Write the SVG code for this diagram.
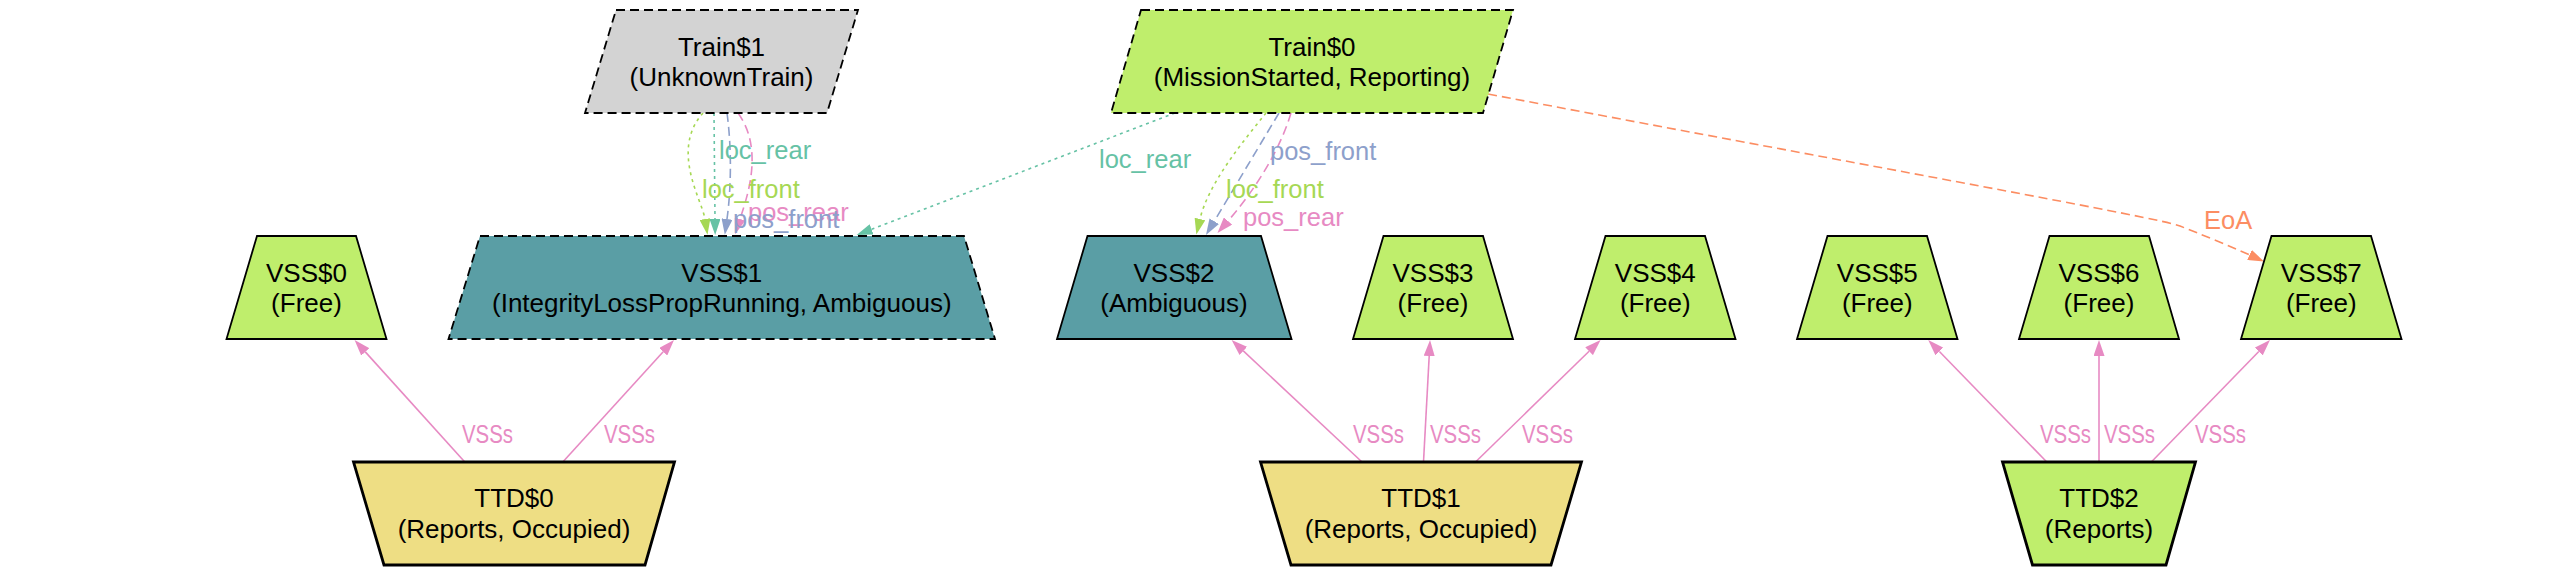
<svg xmlns="http://www.w3.org/2000/svg" width="2566" height="575" viewBox="0 0 2566 575">
<style>
text{font-family:"Liberation Sans",Arial,sans-serif;}
.nt{font-size:26px;fill:#000;text-anchor:middle;}
.lb{font-size:25.5px;}
.vss{stroke:#000;stroke-width:1.8;}
.ttd{stroke:#000;stroke-width:2.8;}
.train{stroke:#000;stroke-width:1.8;stroke-dasharray:9,5;}
.dash{stroke-dasharray:9,5;}
.green{fill:#bfee6c;}
.teal{fill:#5a9ea5;}
.gold{fill:#eede84;}
.gray{fill:#d3d3d3;}
.e{fill:none;stroke-width:1.6;}
.dot{stroke-dasharray:3,4;}
.dsh{stroke-dasharray:9,5;}
.cLR{stroke:#66c2a5;} .tLR{fill:#66c2a5;}
.cLF{stroke:#a6d854;} .tLF{fill:#a6d854;}
.cPF{stroke:#8da0cb;} .tPF{fill:#8da0cb;}
.cPR{stroke:#e78ac3;} .tPR{fill:#e78ac3;}
.cEO{stroke:#fc8d62;} .tEO{fill:#fc8d62;}
</style>
<defs>
<marker id="aLR" viewBox="0 0 16 11" refX="0" refY="5.5" markerWidth="16" markerHeight="11" markerUnits="userSpaceOnUse" orient="auto"><path d="M0,0 L16,5.5 L0,11 z" fill="#66c2a5"/></marker>
<marker id="aLF" viewBox="0 0 16 11" refX="0" refY="5.5" markerWidth="16" markerHeight="11" markerUnits="userSpaceOnUse" orient="auto"><path d="M0,0 L16,5.5 L0,11 z" fill="#a6d854"/></marker>
<marker id="aPF" viewBox="0 0 16 11" refX="0" refY="5.5" markerWidth="16" markerHeight="11" markerUnits="userSpaceOnUse" orient="auto"><path d="M0,0 L16,5.5 L0,11 z" fill="#8da0cb"/></marker>
<marker id="aPR" viewBox="0 0 16 11" refX="0" refY="5.5" markerWidth="16" markerHeight="11" markerUnits="userSpaceOnUse" orient="auto"><path d="M0,0 L16,5.5 L0,11 z" fill="#e78ac3"/></marker>
<marker id="aEO" viewBox="0 0 16 11" refX="0" refY="5.5" markerWidth="16" markerHeight="11" markerUnits="userSpaceOnUse" orient="auto"><path d="M0,0 L16,5.5 L0,11 z" fill="#fc8d62"/></marker>
</defs>
<rect x="0" y="0" width="2566" height="575" fill="#fff"/>

<g id="connectors">
  <!-- Train$1 -> VSS$1 -->
  <path class="e dot cLF" d="M703,113 C670,150 702,200 705,219" marker-end="url(#aLF)"/>
  <path class="e dot cLR" d="M714,113 L715,219" marker-end="url(#aLR)"/>
  <path class="e dsh cPF" d="M727,113 C732,150 731,190 727,219" marker-end="url(#aPF)"/>
  <path class="e dsh cPR" d="M738,113 C765,150 746,200 740,219" marker-end="url(#aPR)"/>
  <!-- Train$0 -> VSS$1 -->
  <path class="e dot cLR" d="M1175,113 L871.6,229.3" marker-end="url(#aLR)"/>
  <!-- Train$0 -> VSS$2 -->
  <path class="e dot cLF" d="M1266,113 C1240,145 1208,185 1200,219" marker-end="url(#aLF)"/>
  <path class="e dsh cPF" d="M1279,113 L1214.2,221.3" marker-end="url(#aPF)"/>
  <path class="e dsh cPR" d="M1291,113 C1280,150 1255,190 1228,221" marker-end="url(#aPR)"/>
  <!-- Train$0 -> VSS$7 -->
  <path class="e dsh cEO" d="M1488,94 C1900,172 2160,218 2180,226 C2200,234 2230,246 2249.5,254.9" marker-end="url(#aEO)"/>
  <!-- TTD$0 -->
  <path class="e cPR" d="M464.8,462 L365.3,351.9" marker-end="url(#aPR)"/>
  <path class="e cPR" d="M562.8,462 L663.2,351.8" marker-end="url(#aPR)"/>
  <!-- TTD$1 -->
  <path class="e cPR" d="M1362,462 L1243.3,350.9" marker-end="url(#aPR)"/>
  <path class="e cPR" d="M1423.5,462 L1429.2,356" marker-end="url(#aPR)"/>
  <path class="e cPR" d="M1475.5,462 L1589.1,351.2" marker-end="url(#aPR)"/>
  <!-- TTD$2 -->
  <path class="e cPR" d="M2046.8,462 L1939.4,351.5" marker-end="url(#aPR)"/>
  <path class="e cPR" d="M2099,462 L2099,356" marker-end="url(#aPR)"/>
  <path class="e cPR" d="M2151.3,462 L2258.8,351.5" marker-end="url(#aPR)"/>

  <!-- labels -->
  <text class="lb tLR" x="719" y="159">loc_rear</text>
  <text class="lb tLF" x="702" y="198">loc_front</text>
  <text class="lb tPR" x="748" y="221">pos_rear</text>
  <text class="lb tPF" x="733" y="228">pos_front</text>
  <text class="lb tLR" x="1099" y="168">loc_rear</text>
  <text class="lb tPF" x="1270" y="160">pos_front</text>
  <text class="lb tLF" x="1226" y="198">loc_front</text>
  <text class="lb tPR" x="1243" y="226">pos_rear</text>
  <text class="lb tEO" x="2204" y="229">EoA</text>
  <text class="lb tPR" x="462" y="443" textLength="51" lengthAdjust="spacingAndGlyphs">VSSs</text>
  <text class="lb tPR" x="604" y="443" textLength="51" lengthAdjust="spacingAndGlyphs">VSSs</text>
  <text class="lb tPR" x="1353" y="443" textLength="51" lengthAdjust="spacingAndGlyphs">VSSs</text>
  <text class="lb tPR" x="1430" y="443" textLength="51" lengthAdjust="spacingAndGlyphs">VSSs</text>
  <text class="lb tPR" x="1522" y="443" textLength="51" lengthAdjust="spacingAndGlyphs">VSSs</text>
  <text class="lb tPR" x="2040" y="443" textLength="51" lengthAdjust="spacingAndGlyphs">VSSs</text>
  <text class="lb tPR" x="2104" y="443" textLength="51" lengthAdjust="spacingAndGlyphs">VSSs</text>
  <text class="lb tPR" x="2195" y="443" textLength="51" lengthAdjust="spacingAndGlyphs">VSSs</text>
</g>

<g id="Train1">
  <polygon class="train gray" points="616,10 858,10 827,113 585,113"/>
  <text class="nt" x="721.5" y="56">Train$1</text>
  <text class="nt" x="721.5" y="86">(UnknownTrain)</text>
</g>
<g id="Train0">
  <polygon class="train green" points="1141,10 1513,10 1483,113 1111,113"/>
  <text class="nt" x="1312" y="56">Train$0</text>
  <text class="nt" x="1312" y="86">(MissionStarted, Reporting)</text>
</g>

<g id="VSS0">
  <polygon class="vss green" points="257,236 356,236 386.5,339 226.5,339"/>
  <text class="nt" x="306.5" y="282">VSS$0</text>
  <text class="nt" x="306.5" y="312">(Free)</text>
</g>
<g id="VSS1">
  <polygon class="vss teal dash" points="480,236 964,236 995,339 448.5,339"/>
  <text class="nt" x="721.8" y="282">VSS$1</text>
  <text class="nt" x="721.8" y="312">(IntegrityLossPropRunning, Ambiguous)</text>
</g>
<g id="VSS2">
  <polygon class="vss teal" points="1087.5,236 1261,236 1291.5,339 1057,339"/>
  <text class="nt" x="1174" y="282">VSS$2</text>
  <text class="nt" x="1174" y="312">(Ambiguous)</text>
</g>
<g id="VSS3">
  <polygon class="vss green" points="1383.5,236 1483,236 1513,339 1353,339"/>
  <text class="nt" x="1433" y="282">VSS$3</text>
  <text class="nt" x="1433" y="312">(Free)</text>
</g>
<g id="VSS4">
  <polygon class="vss green" points="1605.5,236 1705,236 1735.5,339 1575,339"/>
  <text class="nt" x="1655.3" y="282">VSS$4</text>
  <text class="nt" x="1655.3" y="312">(Free)</text>
</g>
<g id="VSS5">
  <polygon class="vss green" points="1827.5,236 1927,236 1957.5,339 1797,339"/>
  <text class="nt" x="1877.3" y="282">VSS$5</text>
  <text class="nt" x="1877.3" y="312">(Free)</text>
</g>
<g id="VSS6">
  <polygon class="vss green" points="2049.5,236 2149,236 2179,339 2019,339"/>
  <text class="nt" x="2099" y="282">VSS$6</text>
  <text class="nt" x="2099" y="312">(Free)</text>
</g>
<g id="VSS7">
  <polygon class="vss green" points="2271.5,236 2371,236 2401.5,339 2241,339"/>
  <text class="nt" x="2321.3" y="282">VSS$7</text>
  <text class="nt" x="2321.3" y="312">(Free)</text>
</g>

<g id="TTD0">
  <polygon class="ttd gold" points="353.5,462 674.5,462 645,565 384,565"/>
  <text class="nt" x="514" y="507">TTD$0</text>
  <text class="nt" x="514" y="538">(Reports, Occupied)</text>
</g>
<g id="TTD1">
  <polygon class="ttd gold" points="1260.5,462 1581.5,462 1551,565 1291,565"/>
  <text class="nt" x="1421" y="507">TTD$1</text>
  <text class="nt" x="1421" y="538">(Reports, Occupied)</text>
</g>
<g id="TTD2">
  <polygon class="ttd green" points="2002.5,462 2195.5,462 2166,565 2032.5,565"/>
  <text class="nt" x="2099" y="507">TTD$2</text>
  <text class="nt" x="2099" y="538">(Reports)</text>
</g>
</svg>
